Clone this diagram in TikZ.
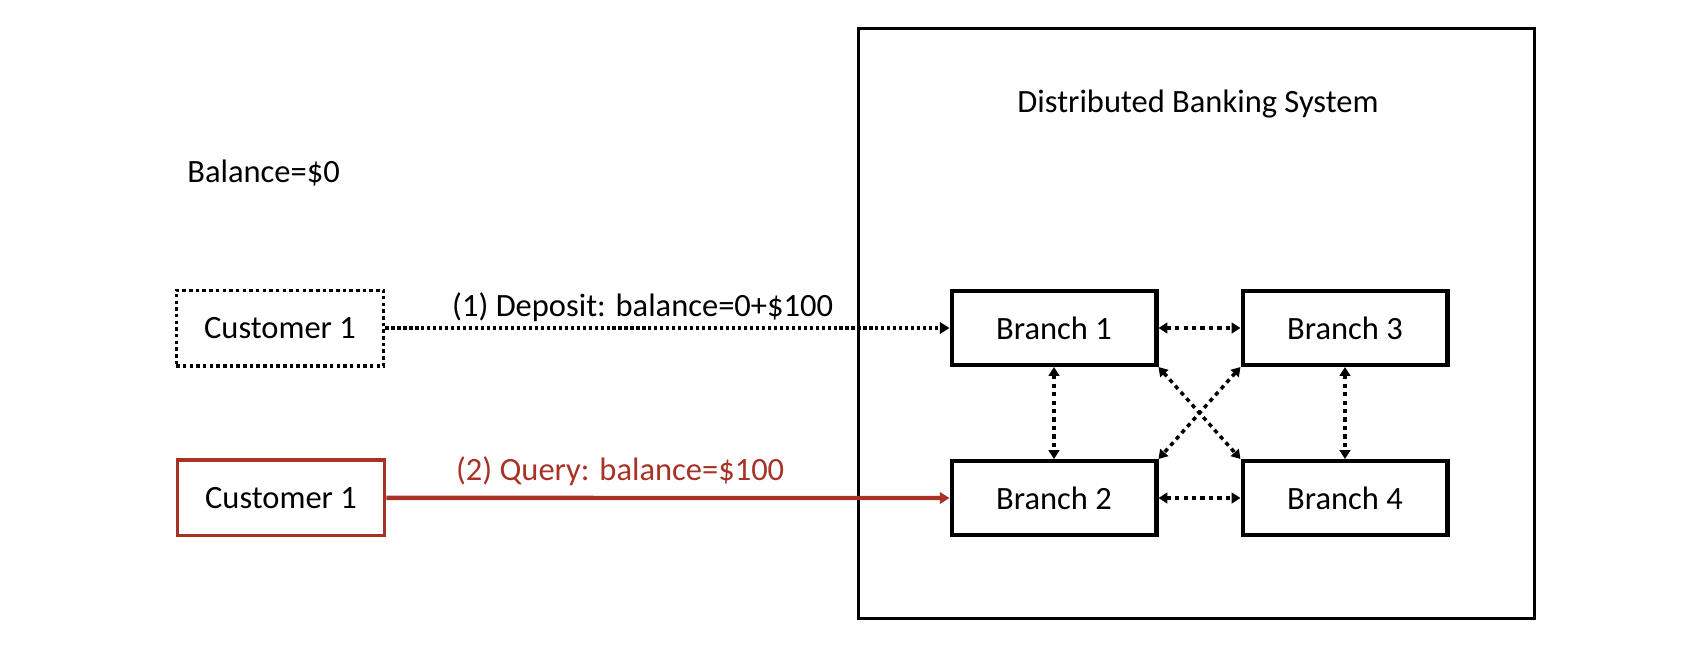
\documentclass[tikz,border=0pt]{standalone}
\usepackage{fontspec}
\setmainfont{Carlito}
\usepackage{xcolor}
\usepackage{tikz}
\usetikzlibrary{positioning}
\usetikzlibrary{arrows, arrows.meta}

\definecolor{queryred}{RGB}{168,50,38}

\tikzset{
  branchbox/.style={draw, line width=2.3pt, minimum width=4.1cm, minimum height=1.48cm},
  custbox/.style={draw, line width=2pt, minimum width=4.15cm, minimum height=1.51cm},
  dotbox/.style={custbox, dash pattern=on 2pt off 1.8pt},
  link/.style={line width=2pt, dash pattern=on 2.4pt off 2.4pt, {Triangle[length=5pt,width=6pt]}-{Triangle[length=5pt,width=6pt]}},
  lbl/.style={inner sep=0pt}
}

\begin{document}
\begin{tikzpicture}[x=0.02cm, y=-0.02cm, font=\fontsize{18.5}{22}\selectfont]
          \useasboundingbox (0,0) rectangle (1690,666);
          \node[draw, line width=1.8pt, minimum width=13.52cm, minimum height=11.8cm] (system) at (1196.5,323.5) {};
          \node[lbl] (title) at (1198,104) {Distributed Banking System};
          \node[lbl, right] (balance) at (187,173) {Balance=\$0};

          % branches
          \node[branchbox] (b1) at (1054,328) {Branch 1};
          \node[branchbox, right=1.64cm of b1] (b3) {Branch 3};
          \node[branchbox, below=1.84cm of b1] (b2) {Branch 2};
          \node[branchbox, right=1.64cm of b2] (b4) {Branch 4};

          % customers
          \node[dotbox] (cust1) at (280,328) {Customer 1};
          \node[custbox, draw=queryred] (cust1q) at (281,497.9) {Customer 1};

          \draw[line width=2pt, dash pattern=on 1.8pt off 1.6pt, -{Triangle[length=5.5pt,width=6.5pt]}] (cust1.east) -- (b1.west)
            node[lbl, pos=0.456, above=0.09cm] {(1) Deposit: balance=0+\$100};
          \draw[queryred, line width=2.5pt, -{Triangle[length=5.5pt,width=6.5pt]}] (cust1q.east) -- (b2.west)
            node[lbl, pos=0.415, above=0.2cm] {(2) Query: balance=\$100};

          \draw[link] (b1) -- (b3);
          \draw[link] (b2) -- (b4);
          \draw[link] (b1) -- (b2);
          \draw[link] (b3) -- (b4);
          \draw[link] (b1.south east) -- (b4.north west);
          \draw[link] (b3.south west) -- (b2.north east);
        \end{tikzpicture}
\end{document}
